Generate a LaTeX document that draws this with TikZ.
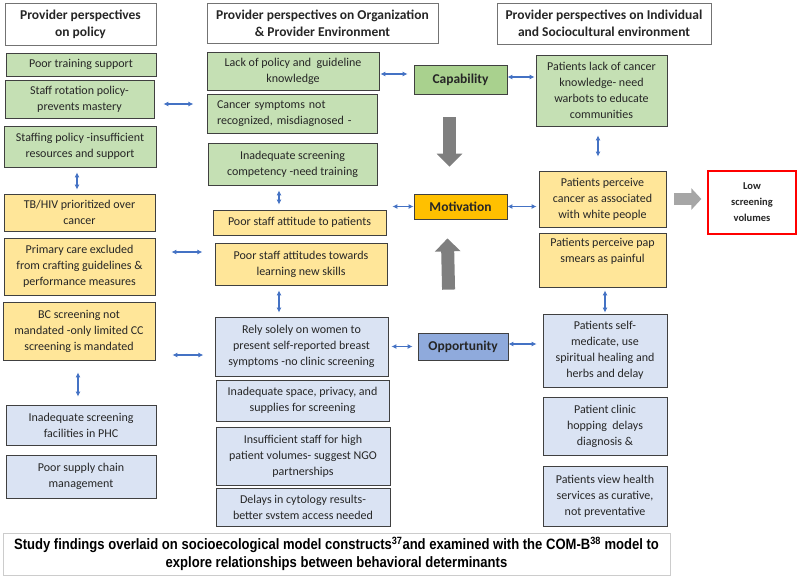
\documentclass[tikz,border=0pt]{standalone}
\usepackage{fontspec}
\setmainfont{Carlito}
\newfontfamily\capfont[FakeStretch=0.87]{Liberation Sans}
\usetikzlibrary{arrows.meta}
\definecolor{grnfill}{HTML}{C5E0B4}
\definecolor{ylwfill}{HTML}{FFE699}
\definecolor{blufill}{HTML}{DAE3F3}
\definecolor{capgrn}{HTML}{A9D18E}
\definecolor{motorg}{HTML}{FFC000}
\definecolor{oppblu}{HTML}{8FAADC}
\definecolor{arrowblue}{HTML}{4472C4}
\definecolor{arrgray}{HTML}{7F7F7F}
\definecolor{arrlight}{HTML}{A6A6A6}

\begin{document}
\begin{tikzpicture}[x=1pt,y=-1pt,
        every node/.style = {draw=black!75, line width=0.8pt, align=center,
            inner sep=2pt, text=black!85, font=\fontsize{12}{16}\selectfont},
        hdr/.style = {fill=white, draw=black!55, font=\fontsize{13.5}{17}\selectfont\bfseries},
        grn/.style = {fill=grnfill},
        ylw/.style = {fill=ylwfill},
        blu/.style = {fill=blufill},
        comb/.style = {font=\fontsize{13.5}{16}\selectfont\bfseries},
        wh/.style 2 args = {minimum width=#1pt, minimum height=#2pt},
        bi/.style = {draw=arrowblue, line width=1.1pt,
            {Latex[length=5pt,width=5pt]}-{Latex[length=5pt,width=5pt]}},
        blockarrow/.style = {line width=13pt, -{Triangle[length=13pt,width=25pt]}}]
    \useasboundingbox (0,0) rectangle (800,579);

    % policy
    \node[hdr, wh={151}{42}] (hpol) at (80.5,24) {Provider perspectives\\on policy};
    \node[grn, wh={150}{23}] (lp1) at (81,64.5) {Poor training support};
    \node[grn, wh={149}{38}] (lp2) at (79.5,99) {Staff rotation policy-\\prevents mastery};
    \node[grn, wh={152}{41}] (lp3) at (80,146.5) {Staffing policy -insufficient\\resources and support};
    \node[ylw, wh={151}{37}] (lp4) at (79.5,212.5) {TB/HIV prioritized over\\cancer};
    \node[ylw, wh={151}{57}] (lp5) at (79.5,266.5) {Primary care excluded\\from crafting guidelines \&\\performance measures};
    \node[ylw, wh={152}{58}] (lp6) at (79,331) {BC screening not\\mandated -only limited CC\\screening is mandated};
    \node[blu, wh={150}{40}] (lp7) at (81,425) {Inadequate screening\\facilities in PHC};
    \node[blu, wh={150}{43}] (lp8) at (81,476.5) {Poor supply chain\\management};

    % organization
    \node[hdr, wh={231}{40}] (horg) at (322.5,23) {Provider perspectives on Organization\\\& Provider Environment};
    \node[grn, wh={172}{38}] (mo1) at (293,71) {Lack of policy and \ guideline\\knowledge};
    \node[grn, wh={170}{39}, text width=150pt, inner xsep=10pt, align=left] (mo2) at (292,113.5) {Cancer symptoms not\\recognized, misdiagnosed -};
    \node[grn, wh={169}{42}] (mo3) at (292.5,164) {Inadequate screening\\competency -need training};
    \node[ylw, wh={173}{25}] (mo4) at (299.5,222.5) {Poor staff attitude to patients};
    \node[ylw, wh={172}{42}] (mo5) at (301,264) {Poor staff attitudes towards\\learning new skills};
    \node[blu, wh={173}{59}] (mo6) at (301.5,346.5) {Rely solely on women to\\present self-reported breast\\symptoms -no clinic screening};
    \node[blu, wh={173}{41}] (mo7) at (302.5,400.5) {Inadequate space, privacy, and\\supplies for screening};
    \node[blu, wh={174}{58}] (mo8) at (303,456) {Insufficient staff for high\\patient volumes- suggest NGO\\partnerships};
    \node[blu, wh={174}{38}] (mo9) at (303,507) {Delays in cytology results-\\better svstem access needed};

    % COM-B
    \node[comb, fill=capgrn, wh={93}{29}] (cap) at (460.5,79.5) {Capability};
    \node[comb, fill=motorg, wh={93}{25}] (mot) at (460.5,206.5) {Motivation};
    \node[comb, fill=oppblu, wh={90}{27}] (opp) at (463,346.5) {Opportunity};

    % individual
    \node[hdr, wh={214}{41}] (hind) at (604,23.5) {Provider perspectives on Individual\\and Sociocultural environment};
    \node[grn, wh={131}{71}] (ri1) at (601.5,90.5) {Patients lack of cancer\\knowledge- need\\warbots to educate\\communities};
    \node[ylw, wh={127}{56}] (ri2) at (602.5,199) {Patients perceive\\cancer as associated\\with white people};
    \node[ylw, wh={127}{54}] (ri3) at (602.5,260) {Patients perceive pap\\smears as painful\\[4pt]};
    \node[blu, wh={124}{73}] (ri4) at (605,350.5) {Patients self-\\medicate, use\\spiritual healing and\\herbs and delay};
    \node[blu, wh={124}{58}] (ri5) at (605,426) {Patient clinic\\hopping \ delays\\diagnosis \&};
    \node[blu, wh={124}{60}] (ri6) at (605,496) {Patients view health\\services as curative,\\not preventative};
    \node[hdr, draw=red, line width=1.3pt, wh={88}{63}, font=\fontsize{10.5}{16}\selectfont\bfseries] (low) at (752,202.5) {Low\\screening\\volumes};

    \node[draw=black!20, line width=0.6pt, wh={667}{42}, text=black,
        font=\capfont\fontsize{15}{18.5}\selectfont\bfseries] (note) at (336.5,554)
        {Study findings overlaid on socioecological model constructs\textsuperscript{37}and examined with the COM-B\textsuperscript{38} model to\\explore relationships between behavioral determinants};

    \draw[bi] ([xshift=9pt,yshift=-5pt]lp2.east) -- ([xshift=39pt,yshift=-5pt]lp2.east);
    \draw[bi] ([xshift=16pt,yshift=14.5pt]lp5.east) -- ([xshift=47pt,yshift=14.5pt]lp5.east);
    \draw[bi] ([xshift=17pt,yshift=-24pt]lp6.east) -- ([xshift=48pt,yshift=-24pt]lp6.east);
    \draw[bi, shorten <=5pt, shorten >=4pt] ([xshift=-3pt]lp3.south) -- ([xshift=-2.5pt]lp4.north);
    \draw[bi, shorten <=12pt, shorten >=8pt] ([xshift=-1pt]lp6.south) -- ([xshift=-3pt]lp7.north);
    \draw[bi, shorten <=5pt, shorten >=5pt] ([xshift=-13.5pt]mo3.south) -- ([xshift=-20.5pt]mo4.north);
    \draw[bi, shorten <=5pt, shorten >=4pt] ([xshift=-22pt]mo5.south) -- ([xshift=-22.5pt]mo6.north);
    \draw[bi, shorten <=9pt, shorten >=14pt] ([xshift=-3.5pt]ri1.south) -- ([xshift=-4.5pt]ri2.north);
    \draw[bi, shorten <=3pt, shorten >=1pt] (ri3.south -| ri4.north) -- (ri4.north);

    \draw[bi] ([xshift=1pt,yshift=-3pt]mo1.east) -- ([xshift=-6pt,yshift=5.5pt]cap.west);
    \draw[bi, shorten <=6pt] (mo4.east |- mot.west) -- (mot.west);
    \draw[bi, shorten <=3pt, shorten >=5pt] (mo6.east) -- (opp.west);
    \draw[bi, shorten >=1pt] ([yshift=2.5pt]cap.east) -- ([yshift=2.5pt]cap.east -| ri1.west);
    \draw[bi, shorten >=2pt] (mot.east) -- (mot.east -| ri2.west);
    \draw[bi, shorten >=6pt] ([yshift=2.5pt]opp.east) -- ([yshift=2.5pt]opp.east -| ri4.west);

    \draw[blockarrow, draw=arrgray, shorten <=23pt, shorten >=27pt] ([xshift=-11pt]cap.south) -- ([xshift=-11pt]mot.north);
    \draw[blockarrow, draw=arrgray, shorten <=43pt, shorten >=19pt] ([xshift=-13.5pt]opp.north) -- ([xshift=-13.5pt]mot.south);
    \draw[line width=12pt, -{Triangle[length=10pt,width=21pt]}, draw=arrlight, shorten <=8pt, shorten >=6pt] (ri2.east) -- (ri2.east -| low.west);
\end{tikzpicture}
\end{document}
